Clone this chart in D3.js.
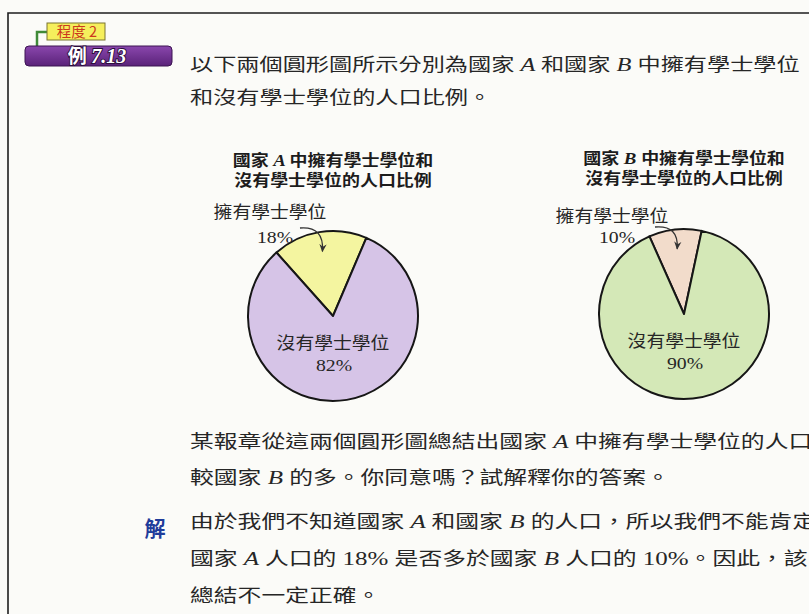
<!DOCTYPE html>
<html>
<head>
<meta charset="utf-8">
<script src="https://cdn.jsdelivr.net/npm/d3@7"></script>
<style>
  body { margin: 0; background: #fbfbf8; }
  svg { display: block; }
  text { white-space: pre; }
</style>
</head>
<body>
<svg id="chart" width="809" height="614"></svg>
<script>
// ---- data ----
const countries = ['A', 'B']
const sliceNames = ['擁有學士學位', '沒有學士學位']
const withDegree = [18, 10]
const withoutDegree = [82, 90]

// ---- styles / layout ----
const sliceColors = [['#f4f5a0', '#d6c4e7'], ['#f2dccb', '#d4e8b7']]
const cjk = '"Noto Sans CJK TC", "Noto Sans CJK SC", sans-serif'
const serif = '"Liberation Serif", "DejaVu Serif", serif'
const ink = '#262626'
const radius = 85

// start angle (deg) of the small slice, label offsets from the pie centre
const pieLayout = [
  { cx: 333, cy: 316, start: -41.7, tag: [-63, -98], pct: [-58, -73], arrow: [-33, -88] },
  { cx: 684, cy: 314, start: -24, tag: [-72, -92], pct: [-67, -71], arrow: [-29, -87] }
]

const svg = d3.select('#chart')

// rich text: segments [kind, string], kind c = CJK, i = italic latin, n = serif numbers
const richText = (parent, x, y, segs, o) => {
  const t = parent.append('text')
    .attr('transform', `translate(${x},${y}) scale(${o.sx},1)`)
    .attr('text-anchor', o.anchor || 'start')
    .attr('fill', o.fill || ink)
    .attr('font-size', o.size)
    .attr('font-weight', o.weight || 400)
  segs.forEach(([kind, str]) => {
    t.append('tspan')
      .attr('font-family', kind === 'c' ? cjk : serif)
      .attr('font-style', kind === 'i' ? 'italic' : 'normal')
      .attr('font-size', kind === 'c' ? o.size : o.size * 1.05)
      .text(str)
  })
  return t
}

// page frame
svg.append('path')
  .attr('d', 'M8,614V13H809')
  .attr('fill', 'none')
  .attr('stroke', '#1e1e1e')
  .attr('stroke-width', 1.6)

// header tags
const head = svg.append('g')
head.append('path')
  .attr('d', 'M37,47V32H48')
  .attr('fill', 'none')
  .attr('stroke', '#3f8a38')
  .attr('stroke-width', 2.5)
head.append('rect')
  .attr('x', 47).attr('y', 23).attr('width', 58).attr('height', 17)
  .attr('fill', '#f5ef5c').attr('stroke', '#7a7430').attr('stroke-width', 1)
head.append('text')
  .attr('x', 77).attr('y', 37)
  .attr('text-anchor', 'middle')
  .attr('font-family', cjk).attr('font-size', 14.5)
  .attr('fill', '#cc3a1c')
  .text('程度 2')

const grad = svg.append('defs').append('linearGradient')
  .attr('id', 'purple').attr('x1', 0).attr('y1', 0).attr('x2', 0).attr('y2', 1)
grad.append('stop').attr('offset', '0%').attr('stop-color', '#8a47ad')
grad.append('stop').attr('offset', '100%').attr('stop-color', '#5a2279')

head.append('rect')
  .attr('x', 25).attr('y', 46).attr('width', 147).attr('height', 20).attr('rx', 4)
  .attr('fill', 'url(#purple)').attr('stroke', '#3c1452').attr('stroke-width', 1)
const ex = head.append('text')
  .attr('x', 97).attr('y', 63)
  .attr('text-anchor', 'middle')
  .attr('fill', '#ffffff')
  .attr('stroke', '#2a0c3a').attr('stroke-width', 1.8)
  .attr('paint-order', 'stroke')
  .attr('font-weight', 700).attr('font-size', 19)
ex.append('tspan').attr('font-family', cjk).text('例 ')
ex.append('tspan').attr('font-family', serif).attr('font-style', 'italic').attr('font-size', 20).text('7.13')

// question text
const topBody = { size: 17.7, sx: 1.31 }
const lowBody = { size: 17.7, sx: 1.345 }
const topLines = [
  [['c', '以下兩個圓形圖所示分別為國家'], ['i', ' A '], ['c', '和國家'], ['i', ' B '], ['c', '中擁有學士學位']],
  [['c', '和' + sliceNames[1].slice(0, 1) + '有學士學位的人口比例。']]
]
topLines.forEach((segs, i) => richText(svg, 190, 71 + i * 33, segs, topBody))

// pies
const arcGen = d3.arc().innerRadius(0).outerRadius(radius)
const arrowArc = d3.arc().innerRadius(radius * 0.77).outerRadius(radius * 0.77)

svg.append('defs').append('marker')
  .attr('id', 'head')
  .attr('viewBox', '0 0 10 10')
  .attr('refX', 8).attr('refY', 5)
  .attr('markerWidth', 7).attr('markerHeight', 7)
  .attr('orient', 'auto')
  .append('path')
  .attr('d', 'M0,1L9,5L0,9L3,5Z')
  .attr('fill', '#333')

countries.forEach((c, i) => {
  const L = pieLayout[i]
  const s = L.start * Math.PI / 180
  const pie = d3.pie().sort(null).startAngle(s).endAngle(s + 2 * Math.PI)
  const arcs = pie([withDegree[i], withoutDegree[i]])
  const g = svg.append('g').attr('transform', `translate(${L.cx},${L.cy})`)

  g.selectAll('path.slice')
    .data(arcs)
    .join('path')
    .attr('class', 'slice')
    .attr('d', arcGen)
    .attr('fill', (d, j) => sliceColors[i][j])
    .attr('stroke', '#161616')
    .attr('stroke-width', 2)
    .attr('stroke-linejoin', 'round')

  // title
  const tOpt = { size: 15.5, sx: 1.16, weight: 700, anchor: 'middle', fill: '#1c1c1c' }
  richText(g, 0, -150, [['c', '國家'], ['i', ` ${c} `], ['c', '中' + sliceNames[0] + '和']], tOpt)
  richText(g, 0, -130, [['c', sliceNames[1] + '的人口比例']], tOpt)

  // small slice label + arrow
  const lab = { size: 16.5, sx: 1.14, anchor: 'middle' }
  richText(g, L.tag[0], L.tag[1], [['c', sliceNames[0]]], lab)
  richText(g, L.pct[0], L.pct[1], [['n', withDegree[i] + '%']], lab)

  const end = arrowArc.centroid(arcs[0])
  const p = d3.path()
  p.moveTo(L.arrow[0], L.arrow[1])
  p.quadraticCurveTo(end[0] + 2, L.arrow[1] - 2, end[0], end[1])
  g.append('path')
    .attr('d', p.toString())
    .attr('fill', 'none')
    .attr('stroke', '#333')
    .attr('stroke-width', 1.3)
    .attr('marker-end', 'url(#head)')

  // big slice label
  richText(g, 0, 33, [['c', sliceNames[1]]], lab)
  richText(g, 1, 55, [['n', withoutDegree[i] + '%']], lab)
})

// lower text
const lowLines = [
  [['c', '某報章從這兩個圓形圖總結出國家'], ['i', ' A '], ['c', '中擁有學士學位的人口']],
  [['c', '較國家'], ['i', ' B '], ['c', '的多。你同意嗎？試解釋你的答案。']],
  [['c', '由於我們不知道國家'], ['i', ' A '], ['c', '和國家'], ['i', ' B '], ['c', '的人口，所以我們不能肯定']],
  [['c', '國家'], ['i', ' A '], ['c', '人口的'], ['n', ` ${withDegree[0]}% `], ['c', '是否多於國家'], ['i', ' B '], ['c', '人口的'], ['n', ` ${withDegree[1]}%`], ['c', '。因此，該']],
  [['c', '總結不一定正確。']]
]
const lowY = [448, 484, 528, 565, 602]
lowLines.forEach((segs, i) => richText(svg, 190, lowY[i], segs, lowBody))

svg.append('text')
  .attr('x', 155).attr('y', 536)
  .attr('text-anchor', 'middle')
  .attr('font-family', cjk).attr('font-weight', 700).attr('font-size', 21)
  .attr('fill', '#1f3c9a')
  .text('解')
</script>
</body>
</html>
